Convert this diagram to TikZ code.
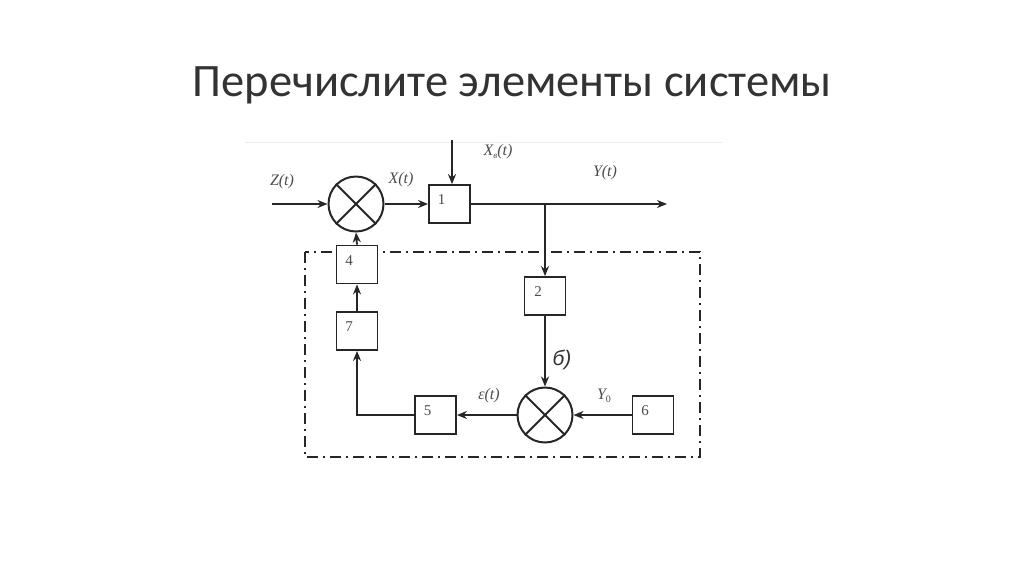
\documentclass[tikz,border=0pt]{standalone}
\usepackage{fontspec}
\setmainfont{Carlito}
\newfontfamily\lbl{Liberation Serif}
\newfontfamily\bsans{Liberation Sans}
\usetikzlibrary{arrows.meta}
\begin{document}
\begin{tikzpicture}[x=1pt,y=-1pt,
  ln/.style={line width=1.8pt, draw=black!85},
  arr/.style={ln,-{Stealth[length=10pt,width=8pt]}},
  blk/.style={draw=black!85,fill=white,line width=1.8pt,minimum width=41pt,minimum height=38pt,inner sep=0pt},
  sumc/.style={circle,draw=black!85,fill=white,line width=2pt,minimum size=55pt,inner sep=0pt},
  lab/.style={font=\lbl\itshape\fontsize{16}{16}\selectfont, text=black!70},
  num/.style={font=\lbl\fontsize{15}{15}\selectfont, text=black!70}]
\useasboundingbox[fill=white] (0,0) rectangle (1024,574);
% title
\node[font=\fontsize{46.5}{52}\selectfont, text=black!80] (title) at (512,85) {Перечислите элементы системы};
% faint border of the image
\draw[black!8, line width=0.8pt] (245,142) -- (722,142);
% dash-dot frame
\draw[ln, dash pattern=on 11pt off 5pt on 2pt off 5pt] (305,252) rectangle (700,457);
% elements
\node[sumc] (c1) at (356,204) {};
\draw[ln] (c1.45) -- (c1.225) (c1.135) -- (c1.315);
\node[sumc] (c2) at (545,415) {};
\draw[ln] (c2.45) -- (c2.225) (c2.135) -- (c2.315);
\node[blk, label={[num,xshift=-8pt,yshift=4pt]center:1}] (b1) at (449.5,204) {};
\node[blk, label={[num,xshift=-7pt,yshift=4pt]center:2}] (b2) at (545,296) {};
\node[blk, label={[num,xshift=-8pt,yshift=4pt]center:4}] (b4) at (357,264.5) {};
\node[blk, label={[num,xshift=-8pt,yshift=4pt]center:5}] (b5) at (435.5,415) {};
\node[blk, label={[num,xshift=-8pt,yshift=4pt]center:6}] (b6) at (653,415) {};
\node[blk, label={[num,xshift=-8pt,yshift=4pt]center:7}] (b7) at (357,331) {};
% coordinates
\coordinate (zin) at (272,204);
\coordinate (xin) at (452,140);
\coordinate (yout) at (667,204);
\coordinate (br) at (545,204);
% connectors
\draw[arr] (zin) -- (c1.west);
\draw[arr] (c1.east) -- (b1.west);
\draw[arr] (xin) -- (xin |- b1.north);
\draw[arr] (b1.east) -- (yout);
\draw[arr] (br) -- (b2.north);
\draw[arr] (b2.south) -- (c2.north);
\draw[arr] (b6.west) -- (c2.east);
\draw[arr] (c2.west) -- (b5.east);
\draw[arr] (b5.west) -| (b7.south);
\draw[arr] (b7.north) -- (b4.south);
\draw[arr] (b4.north) -- (c1.south);
% labels
\node[lab] (lz) at (282,182) {Z(t)};
\node[lab] (lx) at (401,180) {X(t)};
\node[lab] (lxv) at (498,152) {X\raisebox{-3pt}{\fontsize{9}{9}\selectfont в}(t)};
\node[lab] (ly) at (605,173) {Y(t)};
\node[lab] (le) at (489,396) {ε(t)};
\node[lab] (ly0) at (604,396) {Y\raisebox{-3pt}{\fontsize{10}{10}\selectfont\upshape 0}};
\node[font=\bsans\itshape\fontsize{21}{21}\selectfont, text=black!80] (lb) at (562,360) {б)};
\end{tikzpicture}
\end{document}
